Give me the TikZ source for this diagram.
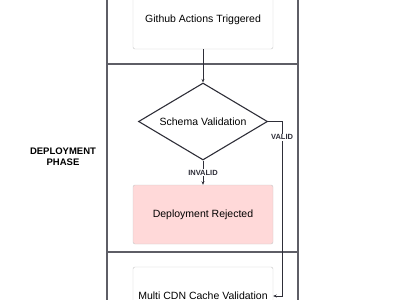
\documentclass[tikz,border=0pt]{standalone}
\usepackage{fontspec}
\setmainfont{Liberation Sans}
\usepackage{tikz}
\usetikzlibrary{arrows.meta,positioning,shapes.geometric}
\definecolor{Ink}{HTML}{2E2E38}
\definecolor{Lane}{HTML}{5E5E66}
\definecolor{Edge}{HTML}{C8C8C8}
\definecolor{Rose}{HTML}{FFD9D9}

\begin{document}
\begin{tikzpicture}[x=1pt,y=-1pt,every node/.style={font=\fontsize{10.5}{12}\selectfont,align=center},
  stepbox/.style={draw=Edge,rounded corners=2pt,minimum width=140pt,minimum height=58pt,inner sep=0pt,fill=white},
  tag/.style={font=\bfseries\fontsize{7.5}{8}\selectfont,fill=white,inner sep=1pt,text=Ink},
  flow/.style={-{Stealth[length=3.5pt,width=3pt]},draw=Ink,line width=0.9pt}]
\useasboundingbox (0,0) rectangle (400,300);
% lanes
\draw[Lane,line width=1.2pt] (107,-5) -- (107,305) (298,-5) -- (298,305);
\draw[Lane,line width=1.2pt] (107,64) -- (298,64) (107,252) -- (298,252);
\node[font=\bfseries\fontsize{9.5}{11}\selectfont] (phase) at (63,157) {DEPLOYMENT\\PHASE};
\node[stepbox] (trig) at (203,20) {Github Actions Triggered};
\node[draw=Ink,line width=1.1pt,diamond,minimum width=129pt,minimum height=77pt,inner sep=0pt,aspect=1.675] (schema) at (203,121.5) {Schema Validation};
\node[stepbox,fill=Rose,minimum height=59pt] (reject) at (203,214.5) {Deployment Rejected};
\node[stepbox] (cdn) at (203,296) {Multi CDN Cache Validation};
\draw[flow] (trig) -- (schema);
\draw[flow] (schema) -- node[tag] {INVALID} (reject);
\draw[flow] (schema.east) -- ++(14,0) |- node[tag,pos=0.045] {VALID} (cdn.east);
\end{tikzpicture}
\end{document}
